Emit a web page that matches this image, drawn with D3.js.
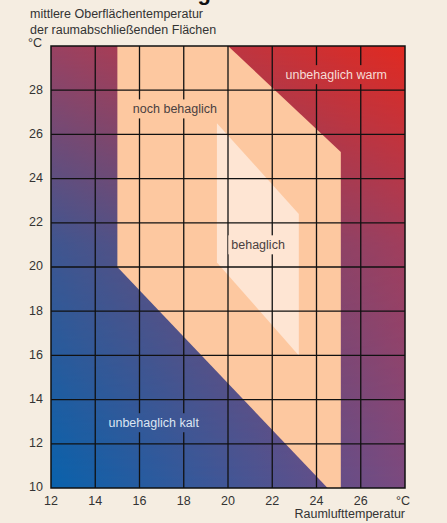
<!DOCTYPE html>
<html>
    <head>
        <meta charset="utf-8">
        <title>Behaglichkeitsfeld</title>
        <script src="https://d3js.org/d3.v7.min.js"></script>
        <style>
            body {
                margin: 0;
                background: #f5ede1;
            }
            svg {
                width: 447px;
                height: 523px;
                display: block;
            }
            text {
                font-family: "Liberation Sans", Arial, sans-serif;
            }
        </style>
    </head>
    <body>
        <svg></svg>
    </body>
    <script>
        // room air temperature (x) vs. mean surface temperature (y)
        let xTicks = [12, 14, 16, 18, 20, 22, 24, 26];
        let yTicks = [10, 12, 14, 16, 18, 20, 22, 24, 26, 28];
        let xDomain = [12, 28];
        let yDomain = [10, 30];

        // zone outlines, [air temp, surface temp]
        let nochBehaglich = [[15, 30], [20, 30], [25.1, 25.2], [25.1, 10], [24.5, 10], [15, 20]];
        let behaglich = [[19.5, 26.5], [23.2, 22.4], [23.2, 16], [19.5, 20.2]];

        let zoneLabels = ['unbehaglich warm', 'noch behaglich', 'behaglich', 'unbehaglich kalt'];
        let labelAnchors = [[22.6, 28.5], [15.7, 26.95], [20.15, 20.8], [14.6, 12.75]];

        let svg = d3.select('svg');
        let x = d3.scaleLinear().domain(xDomain).range([51, 405]);
        let y = d3.scaleLinear().domain(yDomain).range([488, 46]);
        let x0 = x(xDomain[0]), x1 = x(xDomain[1]), y0 = y(yDomain[1]), y1 = y(yDomain[0]);

        let defs = svg.append('defs');
        let topGrad = defs.append('linearGradient').attr('id', 'topGrad');
        topGrad.append('stop').attr('offset', 0).attr('stop-color', '#9a4262');
        topGrad.append('stop').attr('offset', 1).attr('stop-color', '#e12a21');
        let botGrad = defs.append('linearGradient').attr('id', 'botGrad');
        botGrad.append('stop').attr('offset', 0).attr('stop-color', '#0862ac');
        botGrad.append('stop').attr('offset', 1).attr('stop-color', '#7a4a80');
        let fade = defs.append('linearGradient').attr('id', 'fade')
            .attr('x1', 0).attr('y1', 0).attr('x2', 0).attr('y2', 1);
        fade.append('stop').attr('offset', 0).attr('stop-color', 'black');
        fade.append('stop').attr('offset', 0.45).attr('stop-color', '#a0a0a0');
        fade.append('stop').attr('offset', 1).attr('stop-color', 'white');
        defs.append('mask').attr('id', 'fadeMask')
            .append('rect')
            .attr('x', x0).attr('y', y0).attr('width', x1 - x0).attr('height', y1 - y0)
            .attr('fill', 'url(#fade)');

        // title, cut off at the top of the picture
        svg.append('text')
            .attr('x', 14).attr('y', 0)
            .attr('font-size', 22).attr('font-weight', 'bold').attr('fill', '#111')
            .text('Thermische Behaglichkeit');

        // background
        svg.append('rect')
            .attr('x', x0).attr('y', y0).attr('width', x1 - x0).attr('height', y1 - y0)
            .attr('fill', 'url(#topGrad)');
        svg.append('rect')
            .attr('x', x0).attr('y', y0).attr('width', x1 - x0).attr('height', y1 - y0)
            .attr('fill', 'url(#botGrad)')
            .attr('mask', 'url(#fadeMask)');

        let line = d3.line().x(d => x(d[0])).y(d => y(d[1]));
        svg.append('path').attr('d', line(nochBehaglich) + 'Z').attr('fill', '#fdc8a0');
        svg.append('path').attr('d', line(behaglich) + 'Z').attr('fill', '#fee5d3');

        // labels
        let labelColors = ['#f6dcd6', '#4a4040', '#4a4040', '#dde6f2'];
        let labels = svg.append('g').selectAll('text')
            .data(zoneLabels)
            .join('text')
            .attr('x', (d, i) => x(labelAnchors[i][0]))
            .attr('y', (d, i) => y(labelAnchors[i][1]))
            .attr('font-size', 12.5)
            .attr('fill', (d, i) => labelColors[i])
            .text(d => d);

        // grid gaps behind the labels
        let gridMask = defs.append('mask').attr('id', 'gridMask')
            .attr('maskUnits', 'userSpaceOnUse')
            .attr('x', 0).attr('y', 0).attr('width', 447).attr('height', 523);
        gridMask.append('rect').attr('width', 447).attr('height', 523).attr('fill', 'white');
        labels.each(function() {
            let b = this.getBBox();
            gridMask.append('rect')
                .attr('x', b.x - 3).attr('y', b.y - 3)
                .attr('width', b.width + 6).attr('height', b.height + 5)
                .attr('fill', 'black');
        });

        let grid = svg.append('g')
            .attr('mask', 'url(#gridMask)')
            .attr('stroke', '#111')
            .attr('stroke-width', 1.3);
        grid.selectAll('.v')
            .data(xTicks.slice(1))
            .join('line')
            .attr('x1', d => x(d)).attr('x2', d => x(d))
            .attr('y1', y0).attr('y2', y1);
        grid.selectAll('.h')
            .data(yTicks.slice(1))
            .join('line')
            .attr('x1', x0).attr('x2', x1)
            .attr('y1', d => y(d)).attr('y2', d => y(d));

        svg.append('rect')
            .attr('x', x0).attr('y', y0).attr('width', x1 - x0).attr('height', y1 - y0)
            .attr('fill', 'none').attr('stroke', '#111').attr('stroke-width', 1.5);

        // axes text
        let axisText = svg.append('g').attr('fill', '#333').attr('font-size', 12.5);
        axisText.selectAll('.yt')
            .data(yTicks)
            .join('text')
            .attr('x', 43)
            .attr('y', d => y(d) - 1)
            .attr('dy', '0.35em')
            .attr('text-anchor', 'end')
            .text(d => d);
        axisText.selectAll('.xt')
            .data(xTicks.concat(['°C']))
            .join('text')
            .attr('x', (d, i) => i < xTicks.length ? x(d) : x(xDomain[1]) - 2)
            .attr('y', 505)
            .attr('text-anchor', 'middle')
            .text(d => d);

        axisText.append('text').attr('x', 30).attr('y', 18).text('mittlere Oberflächentemperatur');
        axisText.append('text').attr('x', 30).attr('y', 34).text('der raumabschließenden Flächen');
        axisText.append('text').attr('x', 28).attr('y', 47).text('°C');
        axisText.append('text').attr('x', 405).attr('y', 518)
            .attr('text-anchor', 'end').text('Raumlufttemperatur');
    </script>
</html>
